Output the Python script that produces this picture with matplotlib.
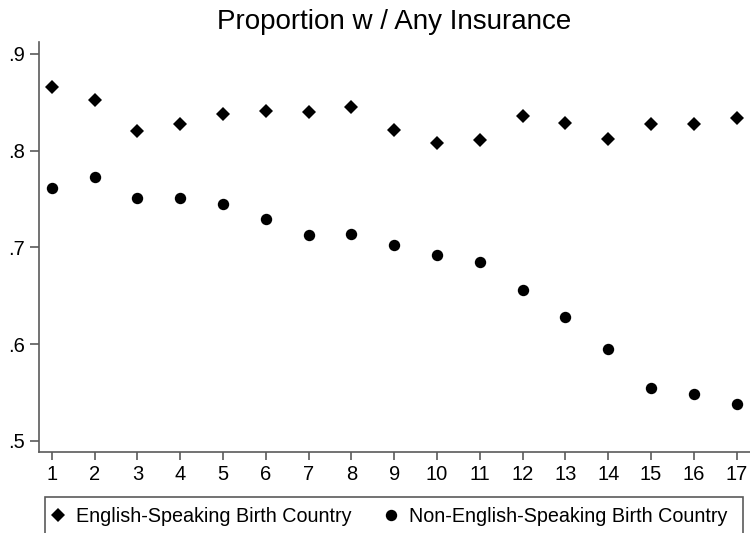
import matplotlib
matplotlib.use("Agg")
import matplotlib.pyplot as plt
from matplotlib.patches import Rectangle

plt.rcParams['font.family'] = ['Liberation Sans', 'DejaVu Sans']

years = list(range(1, 18))
english = [0.866, 0.852, 0.820, 0.828, 0.838, 0.841, 0.840, 0.845, 0.821,
           0.808, 0.811, 0.836, 0.829, 0.812, 0.828, 0.828, 0.834]
non_english = [0.761, 0.773, 0.751, 0.751, 0.745, 0.729, 0.713, 0.714, 0.703,
               0.692, 0.685, 0.656, 0.628, 0.595, 0.555, 0.549, 0.538]
yticks = [0.5, 0.6, 0.7, 0.8, 0.9]
ytick_labels = ['.5', '.6', '.7', '.8', '.9']
title = 'Proportion w / Any Insurance'
labels = ['English-Speaking Birth Country', 'Non-English-Speaking Birth Country']

W, H = 750, 533
fig = plt.figure(figsize=(W / 100, H / 100), dpi=100)
ax = fig.add_axes([39 / W, 1 - 452 / H, (750 - 39) / W, (452 - 42) / H])

h1, = ax.plot(years, english, linestyle='none', marker='D', markersize=7.2,
              color='black', markeredgewidth=0)
h2, = ax.plot(years, non_english, linestyle='none', marker='o', markersize=8.2,
              color='black', markeredgewidth=0)

ax.set_xlim(0.703, 17.31)
ax.set_ylim(0.4886, 0.9124)
ax.set_xticks(years)
ax.set_xticklabels([str(y) for y in years])
ax.set_yticks(yticks)
ax.set_yticklabels(ytick_labels)

for s in ['top', 'right']:
    ax.spines[s].set_visible(False)
for s in ['left', 'bottom']:
    ax.spines[s].set_color('#5a5a5a')
    ax.spines[s].set_linewidth(1.2)
ax.tick_params(axis='both', colors='#5a5a5a', labelcolor='black', width=1.2)
ax.tick_params(axis='x', length=6, pad=3, labelsize=14.5)
ax.tick_params(axis='y', length=6.5, pad=3.5, labelsize=14.5)

fig.text(394 / W, 1 - 22 / H, title, ha='center', va='center', fontsize=20)

# legend box
fig.patches.append(Rectangle((45 / W, 1 - 545 / H), (743 - 45) / W, 48 / H,
                             transform=fig.transFigure, facecolor='white',
                             edgecolor='#5a5a5a', linewidth=1.2))
leg = fig.legend([h1, h2], labels, loc='upper left',
                 bbox_to_anchor=(45 / W, 1 - 502 / H), ncol=2, frameon=False,
                 fontsize=14.2, handlelength=0.8, handletextpad=0.5,
                 columnspacing=1.6, borderpad=0.27, markerscale=1.0,
                 borderaxespad=0)

fig.savefig('out.png', dpi=100)
